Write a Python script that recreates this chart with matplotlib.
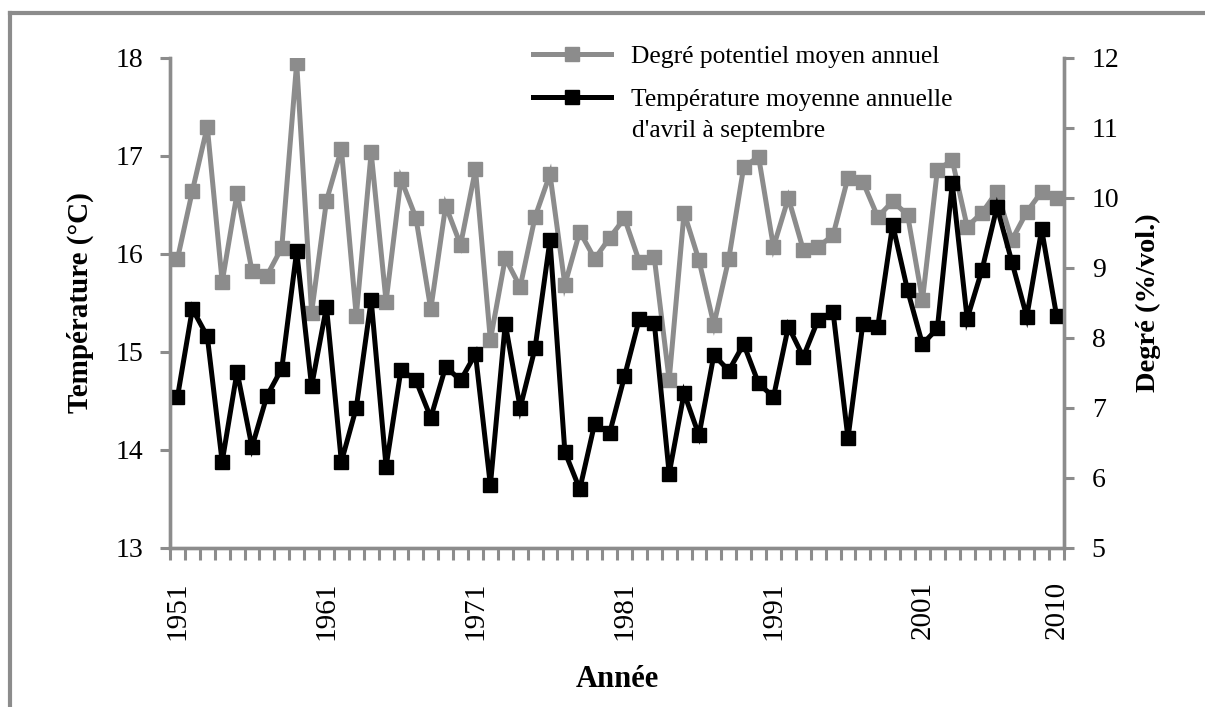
import numpy as np
import matplotlib
matplotlib.use("Agg")
import matplotlib.pyplot as plt
from matplotlib.lines import Line2D

# ---------- data ---------- #
years = list(range(1951, 2011))

# Degré potentiel moyen annuel (%/vol.), right axis
degre = [
    9.13, 10.10, 11.02, 8.80, 10.07, 8.96, 8.89, 9.29, 11.93, 8.36,
    9.96, 10.70, 8.31, 10.65, 8.52, 10.27, 9.72, 8.41, 9.89, 9.33,
    10.41, 7.97, 9.14, 8.73, 9.73, 10.34, 8.76, 9.52, 9.13, 9.43,
    9.71, 9.09, 9.15, 7.40, 9.79, 9.11, 8.19, 9.13, 10.44, 10.59,
    9.30, 10.00, 9.26, 9.30, 9.47, 10.29, 10.23, 9.73, 9.95, 9.76,
    8.54, 10.40, 10.54, 9.59, 9.79, 10.09, 9.40, 9.80, 10.09, 10.00,
]

# Température moyenne annuelle d'avril à septembre (°C), left axis
temperature = [
    14.54, 15.44, 15.16, 13.88, 14.80, 14.03, 14.55, 14.83, 16.03, 14.65,
    15.46, 13.88, 14.43, 15.53, 13.83, 14.82, 14.71, 14.33, 14.85, 14.71,
    14.98, 13.64, 15.29, 14.43, 15.04, 16.14, 13.98, 13.60, 14.27, 14.17,
    14.75, 15.34, 15.30, 13.76, 14.58, 14.15, 14.97, 14.81, 15.08, 14.68,
    14.54, 15.26, 14.95, 15.33, 15.41, 14.12, 15.29, 15.26, 16.30, 15.63,
    15.08, 15.24, 16.72, 15.34, 15.84, 16.48, 15.92, 15.36, 16.25, 15.37,
]

label_years = [1951, 1961, 1971, 1981, 1991, 2001, 2010]

# ---------- style ---------- #
GRAY = "#8c8c8c"
AXC = "#8c8c8c"
plt.rcParams["font.family"] = ["Liberation Serif", "DejaVu Serif"]

fig = plt.figure(figsize=(12.05, 7.07), dpi=100)
ax = fig.add_axes([0.1411, 0.2249, 0.883 - 0.1411, 0.918 - 0.2249])
ax2 = ax.twinx()

# temperature (black) must sit on top of the gray series
ax.set_zorder(2)
ax.patch.set_visible(False)
ax2.set_zorder(1)

x = np.arange(len(years))
l_deg, = ax2.plot(x, degre, color=GRAY, lw=3.6, marker="s", ms=10.5,
                  mfc=GRAY, mec=GRAY, solid_joinstyle="miter")
l_tmp, = ax.plot(x, temperature, color="black", lw=3.6, marker="s", ms=10.5,
                 mfc="black", mec="black", solid_joinstyle="miter")

ax.set_xlim(-0.5, len(years) - 0.5)
ax.set_ylim(13, 18)
ax2.set_ylim(5, 12)
ax.set_yticks(range(13, 19))
ax2.set_yticks(range(5, 13))

# x ticks: boundaries as minor ticks, year labels as major (no mark)
ax.set_xticks(np.arange(-0.5, len(years)), minor=True)
ax.set_xticks([years.index(y) for y in label_years])
ax.set_xticklabels([str(y) for y in label_years], rotation=90)
ax.tick_params(axis="x", which="major", length=0, pad=24, labelsize=21)
ax.tick_params(axis="x", which="minor", length=8.5, width=2.2, color=AXC,
               direction="out")
ax.tick_params(axis="y", length=7, width=2.2, color=AXC, pad=12, labelsize=20)
ax2.tick_params(axis="y", length=7, width=2.2, color=AXC, pad=13, labelsize=20)
ax2.tick_params(axis="x", which="both", length=0)

for a in (ax, ax2):
    a.spines["top"].set_visible(False)
    for s in ("left", "right", "bottom"):
        a.spines[s].set_color(AXC)
        a.spines[s].set_linewidth(2.4)

ax.set_ylabel("Température (°C)", fontsize=21, fontweight="bold", labelpad=16)
ax2.set_ylabel("Degré (%/vol.)", fontsize=20.5, fontweight="bold", labelpad=12)
ax.set_xlabel("Année", fontsize=22, fontweight="bold", labelpad=18)

# legend: two entries, second line of the black label added as text
leg = ax.legend(
    [l_deg, l_tmp],
    ["Degré potentiel moyen annuel", "Température moyenne annuelle"],
    loc="upper left", bbox_to_anchor=(533 / 1205, 1 - 45 / 707),
    bbox_transform=fig.transFigure, frameon=False, borderpad=0,
    borderaxespad=0, fontsize=18.4, handlelength=3.07, handletextpad=0.78,
    labelspacing=0.78,
)
leg.set_zorder(5)
fig.text(632 / 1205, 1 - 131 / 707, "d'avril à septembre", fontsize=18.4,
         ha="left", va="center")

# outer frame (top and left edges only)
fig.add_artist(Line2D([0.0083, 1.0], [0.9816, 0.9816], color=AXC, lw=3,
                      transform=fig.transFigure))
fig.add_artist(Line2D([0.0083, 0.0083], [0.0, 0.9816], color=AXC, lw=3,
                      transform=fig.transFigure))

fig.savefig("out.png", dpi=100)
